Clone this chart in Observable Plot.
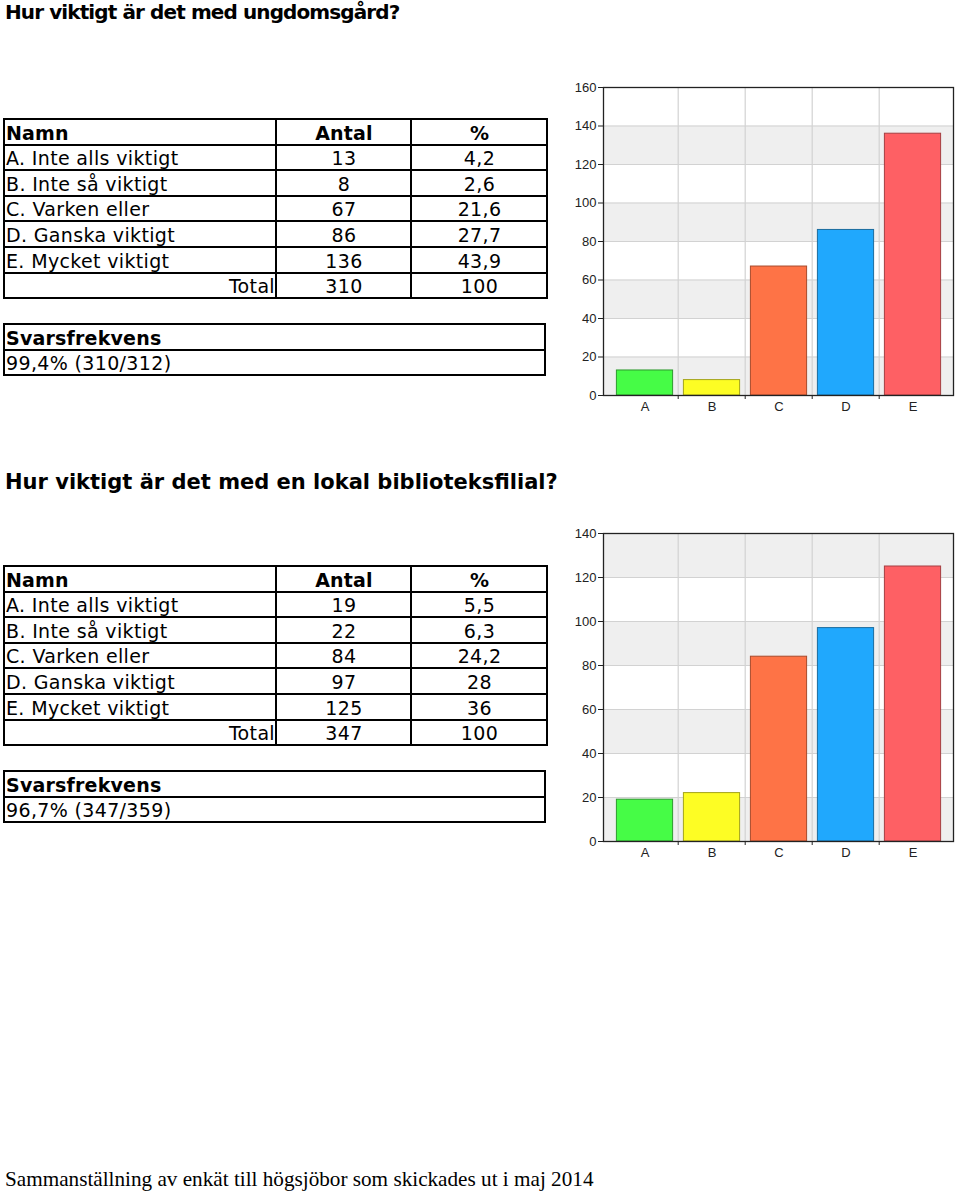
<!DOCTYPE html>
<html>
<head>
<meta charset="utf-8">
<script src="https://cdn.jsdelivr.net/npm/d3@7"></script>
<script src="https://cdn.jsdelivr.net/npm/@observablehq/plot@0.6"></script>
<style>
  html, body { margin: 0; padding: 0; background: #fff; }
  body { width: 960px; height: 1192px; position: relative; overflow: hidden; font-family: "DejaVu Sans", Verdana, sans-serif; color: #000; }
  .title { position: absolute; left: 5px; font-weight: bold; font-size: 20px; line-height: 1; white-space: nowrap; }
  table.t { position: absolute; left: 3px; width: 543px; border-collapse: collapse; table-layout: fixed; font-size: 19px; letter-spacing: 0.35px; }
  table.t td { border: 2px solid #000; padding: 0 0 0 1px; height: 23.6px; line-height: 22px; white-space: nowrap; overflow: hidden; vertical-align: bottom; }
  table.t td.c { text-align: center; }
  table.t td.r { text-align: right; padding-right: 0; }
  table.t td.b { font-weight: bold; letter-spacing: 0.2px; }
  .chart { position: absolute; left: 560px; }
  .footer { position: absolute; left: 5px; top: 1169px; font-family: "Liberation Serif", "Times New Roman", serif; font-size: 21.2px; line-height: 1; white-space: nowrap; }
</style>
</head>
<body>
<div class="title" style="top:2px; letter-spacing:-0.9px">Hur viktigt är det med ungdomsgård?</div>
<div class="title" style="top:472px; font-size:21px">Hur viktigt är det med en lokal biblioteksfilial?</div>
<div id="tab1"></div>
<div id="tab2"></div>
<div id="chart1" class="chart" style="top:75px"></div>
<div id="chart2" class="chart" style="top:520px"></div>
<div class="footer">Sammanställning av enkät till högsjöbor som skickades ut i maj 2014</div>
<script>
// ---- data ----
const categories = ["A", "B", "C", "D", "E"];
const optionNames = ["A. Inte alls viktigt", "B. Inte så viktigt", "C. Varken eller", "D. Ganska viktigt", "E. Mycket viktigt"];
const headers = ["Namn", "Antal", "%"];

const ungCounts = [13, 8, 67, 86, 136];
const ungPercents = ["4,2", "2,6", "21,6", "27,7", "43,9"];
const ungTotal = ["310", "100"];
const ungResponse = "99,4% (310/312)";

const bibCounts = [19, 22, 84, 97, 125];
const bibPercents = ["5,5", "6,3", "24,2", "28", "36"];
const bibTotal = ["347", "100"];
const bibResponse = "96,7% (347/359)";

const barFills = ["#46fc46", "#fdfd24", "#fe7346", "#20a8fd", "#fe6064"];
const barStrokes = ["#2f9a2f", "#a3a31a", "#a84b2c", "#1a6c9e", "#a53f42"];

const yTicks1 = [0, 20, 40, 60, 80, 100, 120, 140, 160];
const yTicks2 = [0, 20, 40, 60, 80, 100, 120, 140];
const grayBandStarts = [0, 40, 80, 120];

// ---- tables ----
function buildTable(el, top, counts, percents, total, response) {
  const t = document.createElement("table");
  t.className = "t";
  t.style.top = top + "px";
  let html = `<colgroup><col style="width:272px"><col style="width:135px"><col style="width:136px"></colgroup>`;
  html += `<tr><td class="b">${headers[0]}</td><td class="b c">${headers[1]}</td><td class="b c">${headers[2]}</td></tr>`;
  optionNames.forEach((n, i) => {
    html += `<tr><td>${n}</td><td class="c">${counts[i]}</td><td class="c">${percents[i]}</td></tr>`;
  });
  html += `<tr><td class="r">Total</td><td class="c">${total[0]}</td><td class="c">${total[1]}</td></tr>`;
  t.innerHTML = html;
  el.appendChild(t);

  const s = document.createElement("table");
  s.className = "t";
  s.style.top = (top + 205) + "px";
  s.innerHTML = `<tr><td class="b">Svarsfrekvens</td></tr><tr><td>${response}</td></tr>`;
  el.appendChild(s);
}
buildTable(document.getElementById("tab1"), 118, ungCounts, ungPercents, ungTotal, ungResponse);
buildTable(document.getElementById("tab2"), 565, bibCounts, bibPercents, bibTotal, bibResponse);

// ---- charts ----
function makeChart(counts, yTicks, yMax, marginTop, marginBottom) {
  const data = categories.map((c, i) => ({cat: c, value: counts[i], fill: barFills[i], stroke: barStrokes[i]}));
  const bands = grayBandStarts.filter(v => v < yMax).map(v => ({y1: v, y2: v + 20}));
  const width = 400, height = 345, marginLeft = 43, marginRight = 7, inset = 6;
  const plotH = height - marginTop - marginBottom;
  const step = (width - marginLeft - marginRight - 2 * inset) / categories.length;
  return Plot.plot({
    width,
    height,
    marginLeft,
    marginRight,
    marginTop,
    marginBottom,
    style: {fontFamily: "'Liberation Sans', Arial, sans-serif", fontSize: "13px", color: "#222", background: "transparent"},
    x: {domain: categories, padding: 0, insetLeft: inset, insetRight: inset, label: null},
    y: {domain: [0, yMax], label: null},
    color: {type: "identity"},
    marks: [
      Plot.rectY(bands, {y1: "y1", y2: "y2", fill: "#efefef"}),
      Plot.ruleY(yTicks.slice(1), {stroke: "#d2d2d2", strokeWidth: 1.2}),
      Plot.ruleX(categories.slice(1), {x: d => d, dx: -step / 2, stroke: "#d2d2d2", strokeWidth: 1.2}),
      Plot.ruleX(categories.slice(1), {x: d => d, dx: -step / 2, stroke: "#222", insetTop: plotH, insetBottom: -4}),
      Plot.barY(data, {x: "cat", y: "value", fill: "fill", stroke: "stroke", strokeWidth: 1, insetLeft: 5.4, insetRight: 5.4}),
      Plot.frame({stroke: "#222", strokeWidth: 1.3}),
      Plot.axisY({ticks: yTicks, tickSize: 5, tickPadding: 2, fontSize: 13, stroke: "#222", label: null}),
      Plot.axisX({tickSize: 0, tickPadding: 6, fontSize: 13, label: null})
    ]
  });
}
document.getElementById("chart1").appendChild(makeChart(ungCounts, yTicks1, 160, 12, 25));
document.getElementById("chart2").appendChild(makeChart(bibCounts, yTicks2, 140, 13, 24));
</script>
</body>
</html>
